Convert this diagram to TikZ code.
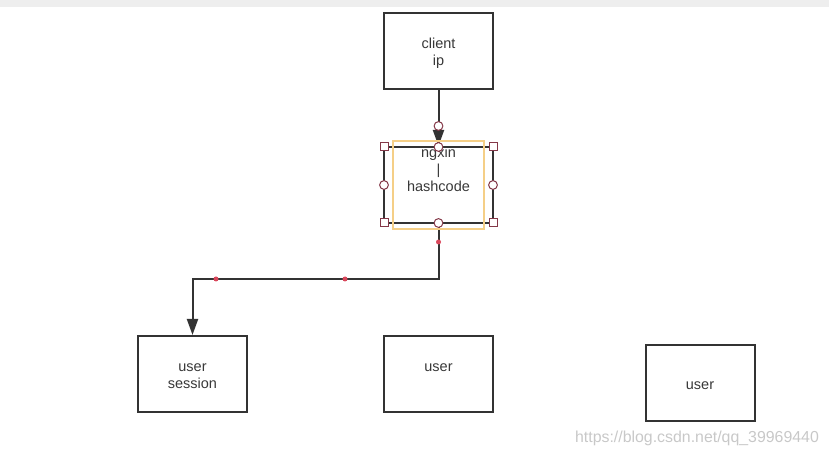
\documentclass[tikz,border=0pt]{standalone}
\usepackage{fontspec}
\setmainfont{Liberation Sans}
\usetikzlibrary{arrows.meta}
\definecolor{boxline}{HTML}{333333}
\definecolor{txtgray}{HTML}{383838}
\definecolor{bandgray}{HTML}{EEEEEE}
\definecolor{handlered}{HTML}{843848}
\definecolor{dotred}{HTML}{D9475B}
\definecolor{selyellow}{HTML}{F5CF87}
\definecolor{wmgray}{HTML}{C8C8C8}
\begin{document}
\begin{tikzpicture}[
    box/.style={draw=boxline, line width=0.05cm, minimum width=2.725cm, minimum height=1.9cm, inner sep=0},
    boxtext/.style={align=center, text=txtgray, inner sep=0},
    conn/.style={draw=boxline, line width=0.05cm, -{Triangle[length=0.4cm,width=0.275cm]}},
    handle/.style={draw=handlered, fill=white, line width=0.025cm},
    reddot/.style={fill=dotred}]
            \useasboundingbox (0,0) rectangle (20.725,11.4);
            {\fontsize{10.3}{12.2}\selectfont
            
            % Drawing top band
            \fill [bandgray] (0,11.225) rectangle (20.725,11.4);%
            
            % Drawing box client
            \node [box] (client) at (10.9625,10.125) {};%
            \node [boxtext] (clientlabel) at (10.9625,10.075) {client\\ip};%
            
            % Drawing box ngxin
            \node [box] (ngxin) at (10.9625,6.775) {};%
            \node [boxtext] (ngxinlabel) at (10.9625,7.175) {ngxin\\|\\hashcode};%
            
            % Drawing boxes user
            \node [box] (session) at (4.8125,2.05) {};%
            \node [boxtext] (sessionlabel) at (4.8125,2.0) {user\\session};%
            \node [box] (usermid) at (10.9625,2.05) {};%
            \node [boxtext] (usermidlabel) at (10.9625,2.2125) {user};%
            \node [box] (userright) at (17.5,1.825) {};%
            \node [boxtext] (userrightlabel) at (17.5,1.75) {user};%
            
            % Drawing segment client ngxin
            \draw [conn] (client.south) -- (ngxin.north);%
            
            % Drawing segment ngxin session
            \coordinate (bend) at (10.9625,4.425);
            \draw [conn] (ngxin.south) -- (bend) -| (session.north);%
            
            % Drawing selection frame
            \draw [selyellow, line width=0.04cm] (9.825,5.675) rectangle (12.1,7.875);%
            
            % Marking handles by squares
            \draw [handle] (9.5,7.625) rectangle ++(0.2,0.2);%
            \draw [handle] (12.225,7.625) rectangle ++(0.2,0.2);%
            \draw [handle] (9.5,5.725) rectangle ++(0.2,0.2);%
            \draw [handle] (12.225,5.725) rectangle ++(0.2,0.2);%
            
            % Marking handles by circles
            \draw [handle] (10.9625,8.25) circle (0.11);%
            \draw [handle] (10.9625,7.725) circle (0.11);%
            \draw [handle] (10.9625,5.825) circle (0.11);%
            \draw [handle] (9.6,6.775) circle (0.11);%
            \draw [handle] (12.325,6.775) circle (0.11);%
            
            % Marking points on segment
            \fill [reddot] (10.9625,5.35) circle (0.0625);%
            \fill [reddot] (5.4,4.425) circle (0.0625);%
            \fill [reddot] (8.625,4.425) circle (0.0625);%
            
            % Watermark
            \node [text=wmgray, font=\fontsize{11.3}{13}\selectfont, inner sep=0] (mark) at (17.425,0.45) {https://blog.csdn.net/qq\_39969440};%
            }
        \end{tikzpicture}
\end{document}
